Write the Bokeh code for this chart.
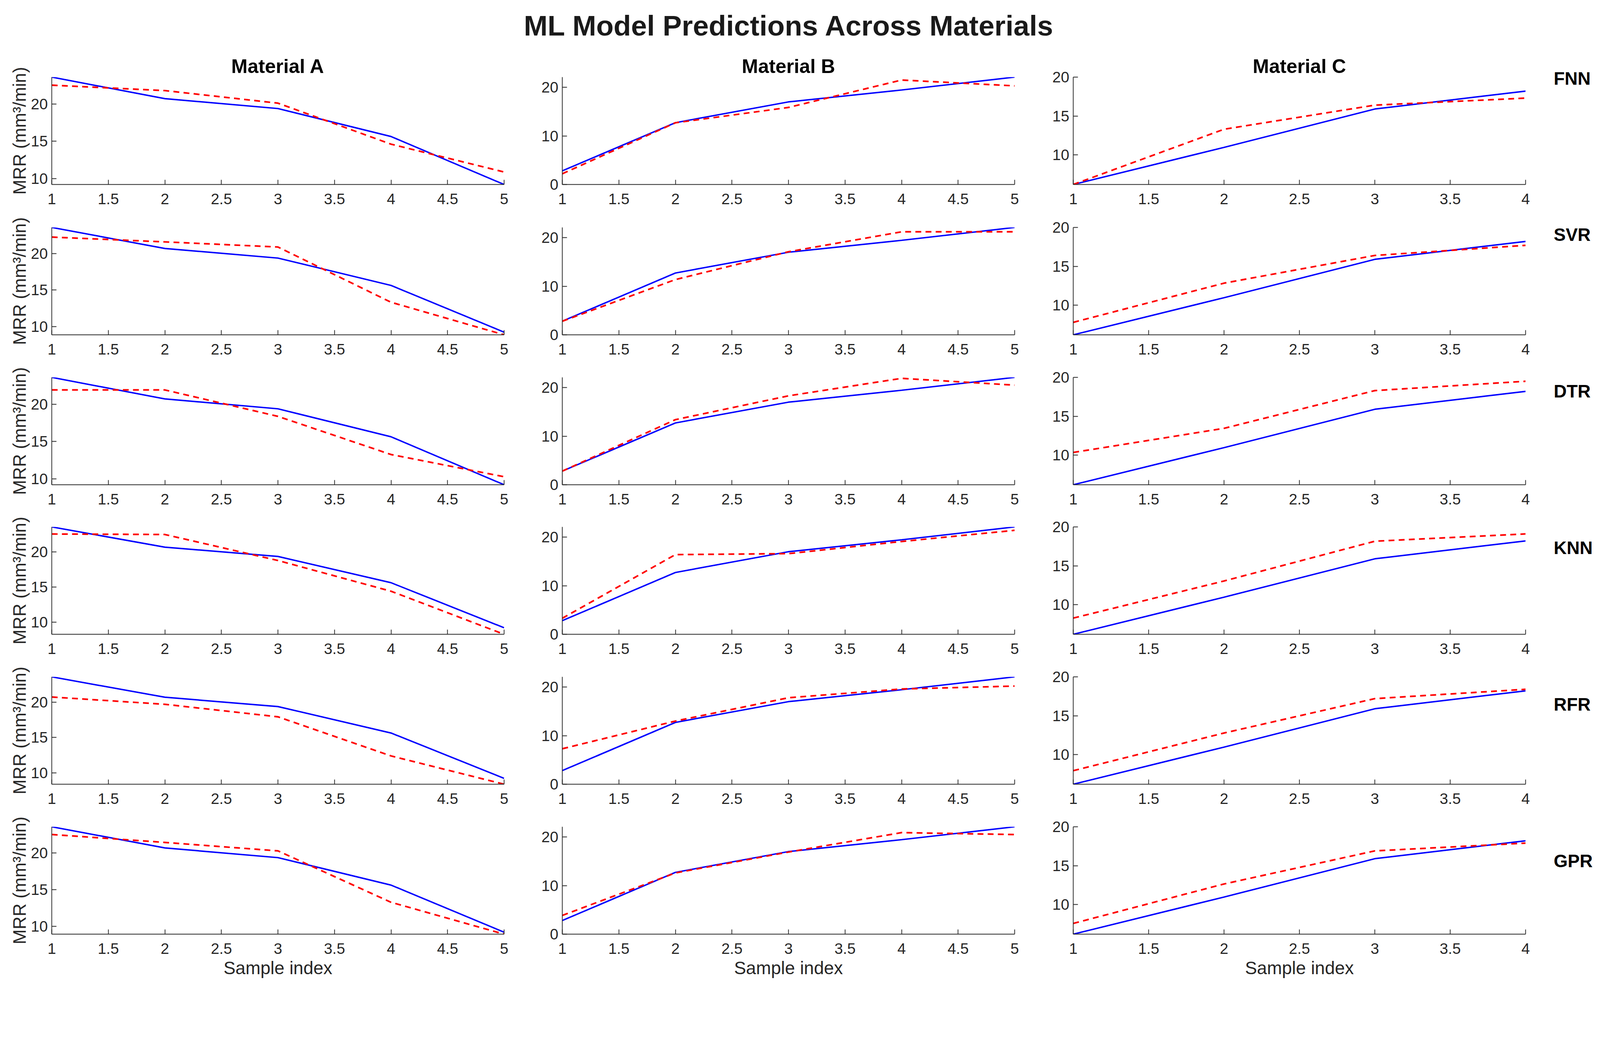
from bokeh.plotting import figure
from bokeh.models import Range1d, FixedTicker, Title, Label
from bokeh.layouts import column, row
from bokeh.embed import file_html
from bokeh.resources import INLINE

# ---------------- data ----------------
models = ["FNN", "SVR", "DTR", "KNN", "RFR", "GPR"]
materials = ["Material A", "Material B", "Material C"]
main_title = "ML Model Predictions Across Materials"
y_label = "MRR (mm³/min)"
x_label = "Sample index"

samples_A = [1, 2, 3, 4, 5]
samples_B = [1, 2, 3, 4, 5]
samples_C = [1, 2, 3, 4]

actual_A = [23.58, 20.70, 19.38, 15.64, 9.23]
actual_B = [2.80, 12.72, 17.00, 19.45, 22.10]
actual_C = [6.20, 10.97, 15.90, 18.20]

pred_A = {
    "FNN": [22.50, 21.78, 20.10, 14.62, 10.90],
    "SVR": [22.26, 21.60, 20.90, 13.33, 8.87],
    "DTR": [21.90, 21.90, 18.37, 13.27, 10.30],
    "KNN": [22.57, 22.50, 18.80, 14.43, 8.30],
    "RFR": [20.73, 19.70, 17.93, 12.40, 8.40],
    "GPR": [22.53, 21.45, 20.30, 13.30, 8.96],
}
pred_B = {
    "FNN": [2.20, 12.70, 15.86, 21.50, 20.30],
    "SVR": [2.80, 11.37, 17.10, 21.20, 21.20],
    "DTR": [2.80, 13.40, 18.30, 21.90, 20.50],
    "KNN": [3.30, 16.40, 16.60, 19.10, 21.40],
    "RFR": [7.30, 13.00, 17.80, 19.60, 20.20],
    "GPR": [3.85, 12.60, 16.90, 20.90, 20.50],
}
pred_C = {
    "FNN": [6.20, 13.30, 16.40, 17.30],
    "SVR": [7.80, 12.84, 16.40, 17.70],
    "DTR": [10.35, 13.45, 18.30, 19.50],
    "KNN": [8.28, 13.05, 18.16, 19.10],
    "RFR": [7.94, 12.78, 17.20, 18.40],
    "GPR": [7.58, 12.65, 16.90, 17.90],
}

xticks_AB = [1, 1.5, 2, 2.5, 3, 3.5, 4, 4.5, 5]
xticks_C = [1, 1.5, 2, 2.5, 3, 3.5, 4]
yticks_A = [10, 15, 20]
yticks_B = [0, 10, 20]
yticks_C = [10, 15, 20]
ymin_B = 0
ymax_C = 20

# ---------------- style / layout ----------------
FONT = "Liberation Sans"
AX = "#262626"
FW, FH = 1158, 275
left_b = [132, 130, 131]
right_b = [19, 19, 19]
LABEL_W = 161                 # strip right of column C holding the row names
top_b = [82, 35, 34, 33, 34, 34]
bot_b = [75, 75, 75, 75, 75, 125]
TITLE_H = 115
TOTAL_W = sum(left_b) + sum(right_b) + 3 * FW + LABEL_W
title_cx = 2020      # px from layout left
title_cy = 65        # px from layout top (visual centre)
row_label_dy = [3, 18, 35, 53, 70, 87]    # px below each frame top
row_label_x = 53                           # px into the label strip


def fmt(t):
    return "%g" % t


def blank(w, h):
    b = figure(frame_width=w, frame_height=h,
               x_range=Range1d(0, w), y_range=Range1d(0, h),
               output_backend="svg", toolbar_location=None, title=None,
               x_axis_location=None, y_axis_location=None,
               min_border_left=0, min_border_right=0,
               min_border_top=0, min_border_bottom=0)
    b.outline_line_color = None
    b.grid.visible = False
    b.background_fill_color = "white"
    b.border_fill_color = "white"
    return b


def panel(ci, ri):
    m = models[ri]
    if ci == 0:
        xs, ya, yp, xt, yt = samples_A, actual_A, pred_A[m], xticks_AB, yticks_A
        lo, hi = min(ya + yp), max(ya + yp)
    elif ci == 1:
        xs, ya, yp, xt, yt = samples_B, actual_B, pred_B[m], xticks_AB, yticks_B
        lo, hi = ymin_B, max(ya + yp)
    else:
        xs, ya, yp, xt, yt = samples_C, actual_C, pred_C[m], xticks_C, yticks_C
        lo, hi = min(ya + yp), ymax_C

    p = figure(frame_width=FW, frame_height=FH,
               x_range=Range1d(xs[0], xs[-1]), y_range=Range1d(lo, hi),
               output_backend="svg", toolbar_location=None, title=None,
               min_border_left=left_b[ci], min_border_right=right_b[ci],
               min_border_top=top_b[ri], min_border_bottom=bot_b[ri])
    p.outline_line_color = None
    p.grid.visible = False
    p.background_fill_color = "white"
    p.border_fill_color = "white"

    p.line(xs, ya, line_color="#0000FF", line_width=3.7)
    p.line(xs, yp, line_color="#FF0000", line_width=4.2, line_dash="15 11")

    for ax in (p.xaxis[0], p.yaxis[0]):
        ax.axis_line_color = AX
        ax.axis_line_width = 1.9
        ax.major_tick_line_color = AX
        ax.major_tick_line_width = 1.9
        ax.major_tick_in = 12
        ax.major_tick_out = 0
        ax.minor_tick_line_color = None
        ax.major_label_text_font = FONT
        ax.major_label_text_font_size = "39px"
        ax.major_label_text_color = AX
        ax.axis_label_text_font = FONT
        ax.axis_label_text_font_size = "46px"
        ax.axis_label_text_font_style = "normal"
        ax.axis_label_text_color = AX

    p.xaxis.ticker = FixedTicker(ticks=xt)
    p.xaxis.major_label_overrides = {fmt(t): fmt(t) for t in xt}
    p.xaxis.major_label_standoff = 23
    p.yaxis.ticker = FixedTicker(ticks=yt)
    p.yaxis.major_label_standoff = 10

    if ci == 0:
        p.yaxis.axis_label = y_label
        p.yaxis.axis_label_standoff = 0
    if ri == 5:
        p.xaxis.axis_label = x_label
        p.xaxis.axis_label_standoff = 7

    if ri == 0:
        p.add_layout(Title(text=materials[ci], align="center", text_font=FONT,
                           text_font_size="50px", text_font_style="bold",
                           text_color="black", standoff=0), "above")
    return p


# tall strip holding the row names, right of column C
row_h = [top_b[i] + FH + bot_b[i] for i in range(6)]
STRIP_H = sum(row_h)
strip = blank(LABEL_W, STRIP_H)
acc = 0
for ri in range(6):
    y_from_top = acc + top_b[ri] + row_label_dy[ri]
    strip.add_layout(Label(x=row_label_x, y=STRIP_H - y_from_top,
                           text=models[ri], text_font=FONT,
                           text_font_size="46px", text_font_style="bold",
                           text_color="black", text_align="left",
                           text_baseline="middle"))
    acc += row_h[ri]

# title strip
tp = blank(TOTAL_W, TITLE_H)
tp.add_layout(Label(x=title_cx, y=TITLE_H - title_cy, text=main_title,
                    text_font=FONT, text_font_size="73px", text_font_style="bold",
                    text_color="#1a1a1a", text_align="center",
                    text_baseline="middle"))

panel_rows = [row(*[panel(ci, ri) for ci in range(3)], spacing=0) for ri in range(6)]
grid = column(*panel_rows, spacing=0)
layout = column(tp, row(grid, strip, spacing=0), spacing=0)

open("out.html", "w").write(file_html(layout, INLINE))
